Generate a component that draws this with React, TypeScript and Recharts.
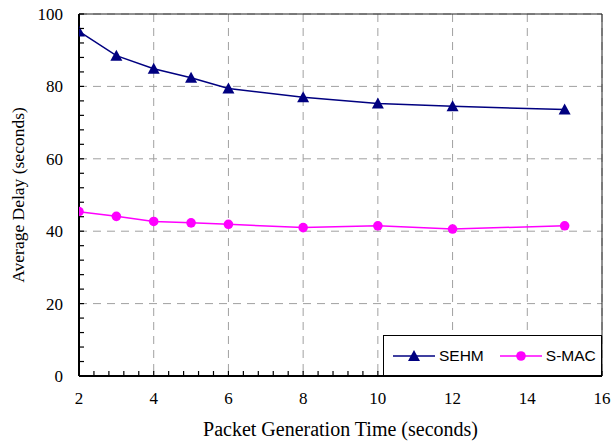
import React from "react";
import {
  LineChart,
  Line,
  XAxis,
  YAxis,
  CartesianGrid,
  ReferenceArea,
  Legend,
} from "recharts";

const timeSteps = [2, 3, 4, 5, 6, 8, 10, 12, 15];
const sehmDelay = [95.2, 88.5, 84.9, 82.4, 79.4, 77.0, 75.3, 74.5, 73.6];
const smacDelay = [45.4, 44.1, 42.7, 42.3, 41.9, 41.0, 41.5, 40.6, 41.5];

const xTicks = [2, 4, 6, 8, 10, 12, 14, 16];
const yTicks = [0, 20, 40, 60, 80, 100];
const xMinorTicks = [2, 2.4, 2.8, 3.2, 3.6, 4, 4.4, 4.8, 5.2, 5.6, 6, 6.4, 6.8, 7.2, 7.6, 8, 8.4, 8.8, 9.2, 9.6, 10, 10.4, 10.8, 11.2, 11.6, 12, 12.4, 12.8, 13.2, 13.6, 14, 14.4, 14.8, 15.2, 15.6, 16];
const yMinorTicks = [0, 4, 8, 12, 16, 20, 24, 28, 32, 36, 40, 44, 48, 52, 56, 60, 64, 68, 72, 76, 80, 84, 88, 92, 96, 100];

const data = timeSteps.map((t, i) => ({ t, sehm: sehmDelay[i], smac: smacDelay[i] }));

const NAVY = "#000080";
const MAGENTA = "#FF00FF";
const SERIF = "'Liberation Serif', 'Times New Roman', serif";
const SANS = "'Liberation Sans', Arial, sans-serif";

const Triangle = (props: any) => {
  const { cx, cy, index } = props;
  if (cx == null || cy == null) return <g key={`tri-${index}`} />;
  return (
    <polygon
      key={`tri-${index}`}
      points={`${cx},${cy - 6} ${cx - 6},${cy + 5} ${cx + 6},${cy + 5}`}
      fill={NAVY}
    />
  );
};

const Circle = (props: any) => {
  const { cx, cy, index } = props;
  if (cx == null || cy == null) return <g key={`dot-${index}`} />;
  return <circle key={`dot-${index}`} cx={cx} cy={cy} r={4.8} fill={MAGENTA} />;
};

// bottom axis: inward tick every 0.4, label on the major values
const XTick = (props: any) => {
  const { x, y, payload } = props;
  const v = payload.value;
  const major = xTicks.some((t) => Math.abs(t - v) < 1e-6);
  return (
    <g>
      <path d={`M${x},${y}V${y - 5}`} stroke="#000" strokeWidth={1.2} fill="none" />
      {major && (
        <text x={x} y={y + 28} textAnchor="middle" fill="#000" fontFamily={SERIF} fontSize={17}>
          {v}
        </text>
      )}
    </g>
  );
};

// left axis: inward tick every 4, label on the major values
const YTick = (props: any) => {
  const { x, y, payload } = props;
  const v = payload.value;
  const major = yTicks.includes(v);
  return (
    <g>
      <path d={`M${x},${y}H${x + 5}`} stroke="#000" strokeWidth={1.2} fill="none" />
      {major && (
        <text x={x - 16} y={y + 6} textAnchor="end" fill="#000" fontFamily={SERIF} fontSize={17}>
          {v}
        </text>
      )}
    </g>
  );
};

const LegendBox = () => (
  <div
    style={{
      width: 219,
      height: 41,
      boxSizing: "border-box",
      border: "1px solid #000",
      background: "#fff",
      display: "flex",
      alignItems: "center",
      fontFamily: SANS,
      fontSize: 15.5,
      color: "#000",
    }}
  >
    <svg width={42} height={14} style={{ marginLeft: 9 }}>
      <line x1={0} y1={7} x2={42} y2={7} stroke={NAVY} strokeWidth={1.5} />
      <polygon points="21,1 15,12 27,12" fill={NAVY} />
    </svg>
    <span style={{ marginLeft: 4 }}>SEHM</span>
    <svg width={42} height={14} style={{ marginLeft: 16 }}>
      <line x1={0} y1={7} x2={42} y2={7} stroke={MAGENTA} strokeWidth={1.5} />
      <circle cx={21} cy={7} r={4.8} fill={MAGENTA} />
    </svg>
    <span style={{ marginLeft: 4 }}>S-MAC</span>
  </div>
);

export default function App() {
  return (
    <div style={{ position: "absolute", left: 0, top: 0, width: 613, height: 442, background: "#fff" }}>
      <LineChart width={613} height={442} data={data} margin={{ top: 14, right: 11, bottom: 0, left: 0 }}>
        <CartesianGrid
          stroke="#a0a0a0"
          strokeDasharray="8 6"
          verticalCoordinatesGenerator={({ offset }: any) =>
            xTicks.map((t) => offset.left + ((t - 2) / 14) * offset.width)
          }
          horizontalCoordinatesGenerator={({ offset }: any) =>
            yTicks.map((t) => offset.top + (1 - t / 100) * offset.height)
          }
        />
        <XAxis
          dataKey="t"
          type="number"
          domain={[2, 16]}
          ticks={xMinorTicks}
          interval={0}
          allowDataOverflow
          tickLine={false}
          tickSize={0}
          tickMargin={0}
          height={66}
          axisLine={{ stroke: "#000", strokeWidth: 2 }}
          tick={<XTick />}
          label={{
            value: "Packet Generation Time (seconds)",
            position: "insideBottom",
            offset: 6,
            fill: "#000",
            fontFamily: SERIF,
            fontSize: 20,
          }}
        />
        <YAxis
          type="number"
          domain={[0, 100]}
          ticks={yMinorTicks}
          interval={0}
          allowDataOverflow
          tickLine={false}
          tickSize={0}
          tickMargin={0}
          width={79}
          axisLine={{ stroke: "#000", strokeWidth: 2 }}
          tick={<YTick />}
          label={{
            content: ({ viewBox }: any) => {
              const cx = viewBox.x + 18;
              const cy = viewBox.y + viewBox.height / 2;
              return (
                <text
                  x={cx}
                  y={cy}
                  transform={`rotate(-90, ${cx}, ${cy})`}
                  textAnchor="middle"
                  dominantBaseline="central"
                  fill="#000"
                  fontFamily={SERIF}
                  fontSize={17.5}
                >
                  Average Delay (seconds)
                </text>
              );
            },
          }}
        />
        <ReferenceArea x1={2} x2={16} y1={0} y2={100} fill="none" stroke="#222" strokeWidth={1} ifOverflow="visible" />
        <Line
          dataKey="sehm"
          type="linear"
          stroke={NAVY}
          strokeWidth={1.5}
          dot={Triangle}
          activeDot={false}
          isAnimationActive={false}
        />
        <Line
          dataKey="smac"
          type="linear"
          stroke={MAGENTA}
          strokeWidth={1.5}
          dot={Circle}
          activeDot={false}
          isAnimationActive={false}
        />
        <Legend
          layout="horizontal"
          verticalAlign="middle"
          align="center"
          content={<LegendBox />}
          wrapperStyle={{ position: "absolute", left: 383, top: 335, width: 219, height: 41 }}
        />
      </LineChart>
    </div>
  );
}
